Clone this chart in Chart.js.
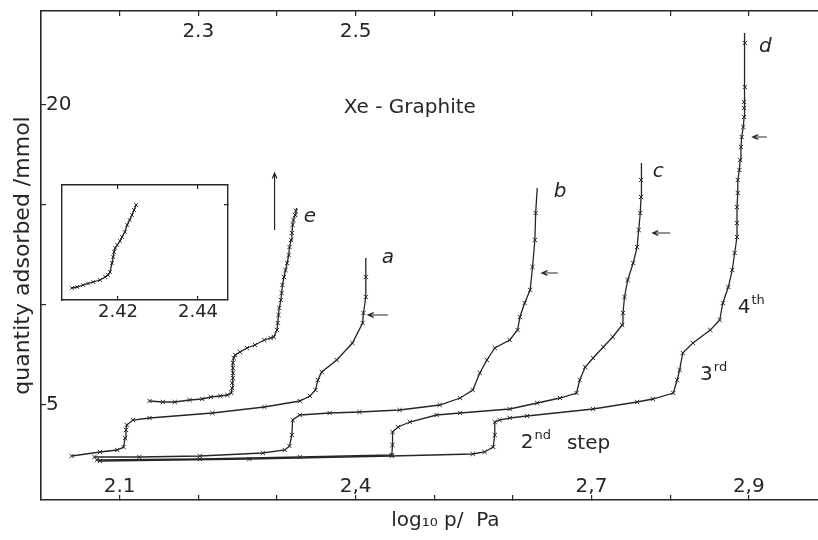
<!DOCTYPE html>
<html>
<head>
<meta charset="utf-8">
<script src="https://cdn.jsdelivr.net/npm/chart.js@4"></script>
<style>
  body { margin: 0; background: #fff; }
  #wrap { position: relative; width: 818px; height: 540px; }
  #main { position: absolute; left: 0; top: 0; }
  #inset { position: absolute; left: 52px; top: 175px; }
</style>
</head>
<body>
<div id="wrap">
  <canvas id="main" width="818" height="540"></canvas>
  <canvas id="inset" width="190" height="160"></canvas>
</div>
<script>
// isotherms a..e, log10 p / Pa (bottom scale) vs quantity adsorbed / mmol
const aLogP = [2.039, 2.075, 2.097, 2.105, 2.107, 2.108, 2.109, 2.117, 2.138, 2.218, 2.284, 2.329, 2.342, 2.349, 2.352, 2.357, 2.376, 2.396, 2.409, 2.410, 2.413, 2.413, 2.413];
const aQty  = [2.45, 2.65, 2.75, 2.9, 3.35, 3.75, 4.0, 4.25, 4.35, 4.6, 4.9, 5.2, 5.45, 5.75, 6.25, 6.65, 7.25, 8.1, 9.1, 9.6, 10.4, 11.4, 12.35];

const bLogP = [2.068, 2.125, 2.202, 2.282, 2.310, 2.316, 2.319, 2.320, 2.329, 2.367, 2.405, 2.456, 2.507, 2.533, 2.549, 2.558, 2.567, 2.577, 2.596, 2.606, 2.609, 2.615, 2.622, 2.625, 2.628, 2.629, 2.631];
const bQty  = [2.4, 2.4, 2.45, 2.6, 2.75, 2.95, 3.5, 4.25, 4.5, 4.6, 4.65, 4.75, 5.0, 5.35, 5.75, 6.6, 7.25, 7.85, 8.25, 8.75, 9.4, 10.1, 10.75, 11.9, 13.25, 14.6, 15.85];

const cLogP = [2.071, 2.202, 2.329, 2.446, 2.447, 2.447, 2.454, 2.469, 2.503, 2.533, 2.596, 2.631, 2.660, 2.681, 2.685, 2.692, 2.702, 2.715, 2.727, 2.739, 2.740, 2.742, 2.746, 2.753, 2.758, 2.760, 2.762, 2.763, 2.763, 2.764];
const cQty  = [2.25, 2.3, 2.4, 2.5, 3.0, 3.65, 3.9, 4.15, 4.5, 4.6, 4.8, 5.1, 5.35, 5.6, 6.25, 6.9, 7.35, 7.9, 8.4, 9.0, 9.6, 10.4, 11.25, 12.1, 12.9, 13.75, 14.6, 15.4, 16.25, 17.1];

const dLogP = [2.075, 2.265, 2.446, 2.549, 2.564, 2.575, 2.577, 2.577, 2.583, 2.596, 2.618, 2.702, 2.758, 2.778, 2.804, 2.809, 2.812, 2.816, 2.829, 2.851, 2.863, 2.867, 2.874, 2.879, 2.882, 2.885, 2.885, 2.885, 2.886, 2.886, 2.888, 2.889, 2.890, 2.891, 2.893, 2.894, 2.894, 2.894, 2.895, 2.895, 2.895];
const dQty  = [2.2, 2.3, 2.45, 2.55, 2.65, 2.9, 3.5, 4.15, 4.25, 4.35, 4.45, 4.8, 5.15, 5.3, 5.6, 6.25, 6.75, 7.6, 8.1, 8.75, 9.25, 10.1, 10.9, 11.75, 12.6, 13.4, 14.1, 14.9, 15.6, 16.25, 16.75, 17.25, 17.9, 18.4, 18.9, 19.4, 19.85, 20.15, 20.9, 23.1, 23.6];

const eLogP = [2.138, 2.155, 2.170, 2.189, 2.205, 2.216, 2.228, 2.237, 2.242, 2.243, 2.243, 2.244, 2.244, 2.244, 2.244, 2.245, 2.247, 2.253, 2.262, 2.272, 2.284, 2.292, 2.296, 2.300, 2.301, 2.302, 2.303, 2.305, 2.306, 2.307, 2.309, 2.311, 2.313, 2.315, 2.316, 2.318, 2.319, 2.320, 2.321, 2.323, 2.324, 2.325];
const eQty  = [5.2, 5.15, 5.15, 5.25, 5.3, 5.4, 5.45, 5.5, 5.6, 5.85, 6.1, 6.35, 6.6, 6.85, 7.1, 7.35, 7.5, 7.65, 7.85, 8.0, 8.25, 8.35, 8.4, 8.75, 9.1, 9.5, 9.85, 10.25, 10.6, 11.0, 11.4, 11.75, 12.1, 12.5, 12.9, 13.25, 13.6, 14.0, 14.25, 14.5, 14.7, 14.85];

// inset: close-up of a step (relative units on y)
const insetLogP = [2.4085, 2.4098, 2.4113, 2.4125, 2.4138, 2.4155, 2.4168, 2.4175, 2.418, 2.4185, 2.4188, 2.419, 2.4193, 2.4198, 2.4205, 2.421, 2.4217, 2.4223, 2.4229, 2.4235, 2.424, 2.4245];
const insetQty  = [2.4, 2.6, 3.0, 3.3, 3.6, 4.0, 4.6, 5.0, 5.6, 7.4, 8.6, 9.6, 10.4, 11.0, 11.8, 12.6, 13.6, 15.0, 16.0, 17.0, 18.0, 19.0];

// axes
const bottomTicks  = [2.1, 2.2, 2.3, 2.4, 2.5, 2.6, 2.7, 2.8, 2.9];
const bottomLabels = ['2.1', '', '', '2,4', '', '', '2,7', '', '2,9'];
const topTicks     = [2.2, 2.3, 2.4, 2.5, 2.6, 2.7, 2.8, 2.9, 3.0];
const topLabels    = ['', '2.3', '', '2.5', '', '', '', '', ''];
const qtyTicks     = [5, 10, 15, 20];
const qtyLabels    = ['5', '', '', '20'];
const insetTicks   = [2.42, 2.44];
const insetLabels  = ['2.42', '2.44'];
const insetQtyTick = [19];

// annotations
const noteText   = ['Xe - Graphite', 'a', 'b', 'c', 'd', 'e'];
const noteLogP   = [2.469, 2.441, 2.660, 2.785, 2.921, 2.342];
const noteQty    = [19.85, 12.35, 15.65, 16.65, 22.9, 14.4];
const noteItalic = [false, true, true, true, true, true];

const stepBase = ['2', '3', '4'];
const stepSup  = ['nd', 'rd', 'th'];
const stepRest = ['step', '', ''];
const stepLogP = [2.610, 2.838, 2.886];
const stepQty  = [3.1, 6.5, 9.85];

const arrowFromLogP = [2.441, 2.657, 2.800, 2.923, 2.297];
const arrowFromQty  = [9.5, 11.6, 13.6, 18.4, 13.75];
const arrowToLogP   = [2.416, 2.637, 2.778, 2.905, 2.297];
const arrowToQty    = [9.5, 11.6, 13.6, 18.4, 16.6];

const INK = '#262626';
const FONT = '"DejaVu Sans", sans-serif';
Chart.defaults.font.family = FONT;
Chart.defaults.color = INK;

function zip(xs, ys) {
  return xs.map((v, i) => ({ x: v, y: ys[i] }));
}

function curve(xs, ys) {
  return {
    data: zip(xs, ys),
    showLine: true,
    borderColor: INK,
    borderWidth: 1.3,
    tension: 0,
    pointStyle: 'crossRot',
    pointRadius: (c) => (c.dataIndex === c.dataset.data.length - 1 ? 0 : 3),
    pointBorderWidth: 1,
    pointBorderColor: INK,
    pointBackgroundColor: INK,
  };
}

function fixTicks(vals) {
  return (s) => { s.ticks = vals.map((v) => ({ value: v })); };
}

// fixed box size, no extra padding pushed onto the chart area
function boxSize(w, h) {
  return (s) => {
    if (w !== null) s.width = w;
    if (h !== null) s.height = h;
    s.paddingTop = 0; s.paddingBottom = 0; s.paddingLeft = 0; s.paddingRight = 0;
  };
}

const notes = {
  id: 'notes',
  afterDatasetsDraw(chart) {
    const { ctx, scales: { x, y } } = chart;
    ctx.save();
    ctx.fillStyle = INK;
    ctx.strokeStyle = INK;
    ctx.textBaseline = 'middle';
    ctx.textAlign = 'center';

    noteText.forEach((t, i) => {
      ctx.font = (noteItalic[i] ? 'italic ' : '') + '20px ' + FONT;
      ctx.fillText(t, x.getPixelForValue(noteLogP[i]), y.getPixelForValue(noteQty[i]));
    });

    ctx.textAlign = 'left';
    stepBase.forEach((t, i) => {
      let px = x.getPixelForValue(stepLogP[i]);
      const py = y.getPixelForValue(stepQty[i]);
      ctx.font = '20px ' + FONT;
      ctx.fillText(t, px, py);
      px += ctx.measureText(t).width + 1;
      ctx.font = '13px ' + FONT;
      ctx.fillText(stepSup[i], px, py - 7);
      px += ctx.measureText(stepSup[i]).width + 16;
      if (stepRest[i]) {
        ctx.font = '20px ' + FONT;
        ctx.fillText(stepRest[i], px, py + 1);
      }
    });

    ctx.lineWidth = 1.2;
    arrowFromLogP.forEach((v, i) => {
      const x0 = x.getPixelForValue(v), y0 = y.getPixelForValue(arrowFromQty[i]);
      const x1 = x.getPixelForValue(arrowToLogP[i]), y1 = y.getPixelForValue(arrowToQty[i]);
      const ang = Math.atan2(y1 - y0, x1 - x0);
      ctx.beginPath();
      ctx.moveTo(x0, y0);
      ctx.lineTo(x1, y1);
      ctx.moveTo(x1 - 6 * Math.cos(ang - 0.4), y1 - 6 * Math.sin(ang - 0.4));
      ctx.lineTo(x1, y1);
      ctx.lineTo(x1 - 6 * Math.cos(ang + 0.4), y1 - 6 * Math.sin(ang + 0.4));
      ctx.stroke();
    });
    ctx.restore();
  },
};

const axisGrid = { drawOnChartArea: false, drawTicks: true, tickLength: -5, color: INK, lineWidth: 1.2 };
const axisBorder = { display: true, color: INK, width: 1.6 };

new Chart(document.getElementById('main'), {
  type: 'scatter',
  data: {
    datasets: [
      curve(aLogP, aQty),
      curve(bLogP, bQty),
      curve(cLogP, cQty),
      curve(dLogP, dQty),
      curve(eLogP, eQty),
    ],
  },
  options: {
    responsive: false,
    animation: false,
    layout: { padding: 0, autoPadding: false },
    plugins: { legend: { display: false }, tooltip: { enabled: false } },
    scales: {
      x: {
        type: 'linear', position: 'bottom', min: 2.0, max: 2.988,
        afterBuildTicks: fixTicks(bottomTicks),
        afterFit: boxSize(null, 40),
        ticks: { callback: (v, i) => bottomLabels[i], mirror: true, padding: 1, maxRotation: 0, autoSkip: false, font: { size: 20 } },
        grid: axisGrid, border: axisBorder,
        title: { display: true, text: '     log\u2081\u2080 p/  Pa', font: { size: 20 }, padding: { top: 0, bottom: 7 } },
      },
      x2: {
        type: 'linear', position: 'top', min: 2.1, max: 3.088,
        afterBuildTicks: fixTicks(topTicks),
        afterFit: boxSize(null, 11),
        ticks: { callback: (v, i) => topLabels[i], mirror: true, padding: 9, maxRotation: 0, autoSkip: false, font: { size: 20 } },
        grid: axisGrid, border: axisBorder,
      },
      y: {
        type: 'linear', position: 'left', min: 0.25, max: 24.7,
        afterBuildTicks: fixTicks(qtyTicks),
        afterFit: boxSize(41, null),
        ticks: { callback: (v, i) => qtyLabels[i], mirror: true, padding: 5, autoSkip: false, font: { size: 20 } },
        grid: axisGrid, border: axisBorder,
        title: { display: true, text: 'quantity adsorbed /mmol', font: { size: 22 }, padding: { top: 10, bottom: 0 } },
      },
    },
  },
  plugins: [notes],
});

const insetGrid = { drawOnChartArea: false, drawTicks: true, tickLength: -4, color: INK, lineWidth: 1.2 };
const insetBorder = { display: true, color: INK, width: 1.4 };

new Chart(document.getElementById('inset'), {
  type: 'scatter',
  data: {
    datasets: [Object.assign(curve(insetLogP, insetQty), { pointRadius: 2.5 })],
  },
  options: {
    responsive: false,
    animation: false,
    layout: { padding: { left: 10, top: 10, right: 14, bottom: 0 }, autoPadding: false },
    plugins: { legend: { display: false }, tooltip: { enabled: false } },
    scales: {
      x: {
        type: 'linear', position: 'bottom', min: 2.406, max: 2.4475,
        afterBuildTicks: fixTicks(insetTicks),
        afterFit: boxSize(null, 35),
        ticks: { callback: (v, i) => insetLabels[i], padding: 6, maxRotation: 0, autoSkip: false, font: { size: 18 } },
        grid: insetGrid, border: insetBorder,
      },
      x2: {
        type: 'linear', position: 'top', min: 2.406, max: 2.4475,
        afterBuildTicks: fixTicks(insetTicks),
        afterFit: boxSize(null, 0),
        ticks: { display: false },
        grid: insetGrid, border: insetBorder,
      },
      y: {
        type: 'linear', position: 'left', min: 0, max: 23,
        afterFit: boxSize(0, null),
        ticks: { display: false },
        grid: { drawOnChartArea: false, drawTicks: false },
        border: insetBorder,
      },
      y2: {
        type: 'linear', position: 'right', min: 0, max: 23,
        afterBuildTicks: fixTicks(insetQtyTick),
        afterFit: boxSize(0, null),
        ticks: { display: false },
        grid: insetGrid, border: insetBorder,
      },
    },
  },
});
</script>
</body>
</html>
